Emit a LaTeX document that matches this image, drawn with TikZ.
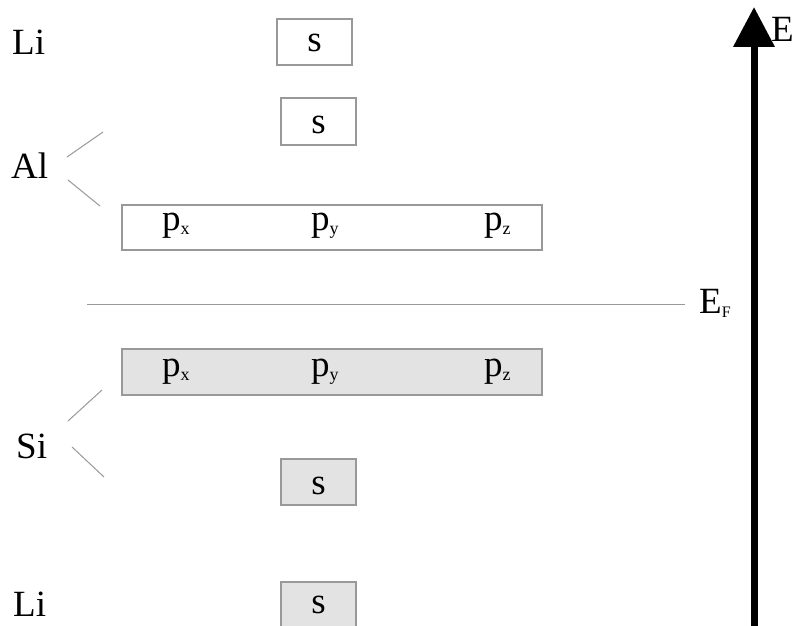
\documentclass[tikz,border=0pt]{standalone}
\usepackage{fontspec}
\setmainfont{Liberation Serif}
\usetikzlibrary{arrows.meta}
\begin{document}
\begin{tikzpicture}[x=1pt,y=-1pt,
  orb/.style={draw=black!40, line width=1.2pt, inner sep=0pt},
  filled/.style={orb, fill=black!11},
  big/.style={font=\fontsize{37}{40}\selectfont, inner sep=0pt, anchor=base},
  thin/.style={draw=black!40, line width=1pt}]
\clip (0,0) rectangle (795,626);
\fill[white] (0,0) rectangle (795,626);
\newcommand{\pp}[1]{p{\fontsize{18}{18}\selectfont\raisebox{-4pt}{#1}}}
% boxes
\node[orb, minimum width=75pt, minimum height=46pt] (liS) at (314.5,42) {};
\node[orb, minimum width=75pt, minimum height=47pt] (alS) at (318.5,121.5) {};
\node[orb, minimum width=420pt, minimum height=45pt] (alP) at (332,227.5) {};
\node[filled, minimum width=420pt, minimum height=46pt] (siP) at (332,372) {};
\node[filled, minimum width=75pt, minimum height=46pt] (siS) at (318.5,482) {};
\node[filled, minimum width=75pt, minimum height=60pt] (liS2) at (318.5,612) {};
% box labels
\node[big] (t1) at (liS.center |- 0,52) {s};
\node[big] (t2) at (alS.center |- 0,133) {s};
\node[big] (t3) at (siS.center |- 0,494) {s};
\node[big] (t4) at (liS2.center |- 0,613) {s};
\node[big, anchor=base west] (apx) at (162,230) {\pp{x}};
\node[big, anchor=base west] (apy) at (311,230) {\pp{y}};
\node[big, anchor=base west] (apz) at (484,230) {\pp{z}};
\node[big, anchor=base west] (spx) at (162,376) {\pp{x}};
\node[big, anchor=base west] (spy) at (311,376) {\pp{y}};
\node[big, anchor=base west] (spz) at (484,376) {\pp{z}};
% element labels
\node[big, anchor=base west] (Li1) at (12,55) {Li};
\node[big, anchor=base west] (Al) at (11,178) {Al};
\node[big, anchor=base west] (Si) at (16,458) {Si};
\node[big, anchor=base west] (Li2) at (13,616) {Li};
% splitting lines
\coordinate (alA) at (67,157); \coordinate (alB) at (103,132);
\coordinate (alC) at (68,180); \coordinate (alD) at (100,206);
\coordinate (siA) at (68,421); \coordinate (siB) at (102,390);
\coordinate (siC) at (72,447); \coordinate (siD) at (104,477);
\draw[thin] (alA) -- (alB);
\draw[thin] (alC) -- (alD);
\draw[thin] (siA) -- (siB);
\draw[thin] (siC) -- (siD);
% Fermi level
\coordinate (efL) at (87,304); \coordinate (efR) at (685,304);
\draw[thin] (efL) -- (efR);
\node[big, anchor=base west] (EF) at (699,313) {E{\fontsize{16}{16}\selectfont\raisebox{-4pt}{F}}};
% energy axis
\coordinate (axB) at (754,640); \coordinate (axT) at (754,7);
\draw[line width=7pt, -{Triangle[width=40pt,length=40pt]}] (axB) -- (axT);
\node[big, anchor=base west] (E) at (771,42) {E};
\end{tikzpicture}
\end{document}
